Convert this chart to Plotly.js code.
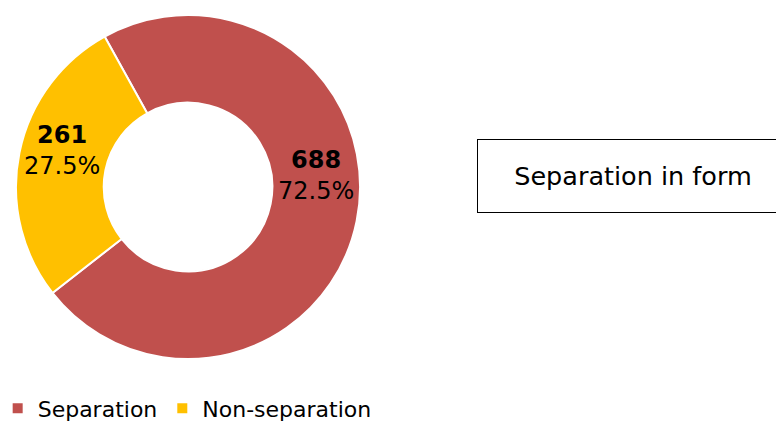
<!DOCTYPE html>
<html>
<head>
<meta charset="utf-8">
<script src="https://cdn.plot.ly/plotly-3.0.1.min.js"></script>
<style>html,body{margin:0;padding:0;background:#fff;}#chart{width:776px;height:426px;}</style>
</head>
<body>
<div id="chart"></div>
<script>
const categories = ["Separation", "Non-separation"];
const counts = [688, 261];
const colors = ["#C0504D", "#FFC000"];
const boxTitle = "Separation in form";

const total = counts.reduce((a, b) => a + b, 0);
const labelPos = [[0.407, 0.587], [0.080, 0.647]];

const trace = {
  type: "pie",
  labels: categories,
  values: counts,
  sort: false,
  direction: "clockwise",
  rotation: -29,
  hole: 0.49,
  marker: { colors: colors, line: { color: "#ffffff", width: 2 } },
  textinfo: "none",
  hoverinfo: "label+value+percent",
  domain: { x: [0.0206, 0.464], y: [0.157, 0.965] }
};

const annotations = categories.map((c, i) => ({
  xref: "paper", yref: "paper",
  x: labelPos[i][0], y: labelPos[i][1], xanchor: "center", yanchor: "middle",
  text: "<b>" + counts[i] + "</b><br>" + (counts[i] / total * 100).toFixed(1) + "%",
  showarrow: false, align: "center",
  font: { family: "DejaVu Sans", size: 24, color: "#000000" }
}));

annotations.push({
  xref: "paper", yref: "paper",
  x: 0.615, y: 0.588, xanchor: "left", yanchor: "middle",
  text: boxTitle, showarrow: false,
  font: { family: "DejaVu Sans", size: 25.5, color: "#000000" },
  bordercolor: "#000000", borderwidth: 1, borderpad: 0,
  width: 310, height: 72, align: "center", bgcolor: "#ffffff"
});

const layout = {
  width: 776, height: 426,
  margin: { l: 0, r: 0, t: 0, b: 0, autoexpand: false },
  paper_bgcolor: "#ffffff",
  font: { family: "DejaVu Sans", size: 22, color: "#000000" },
  showlegend: true,
  legend: {
    orientation: "h", x: -0.003, y: -0.008, xanchor: "left", yanchor: "bottom",
    font: { family: "DejaVu Sans", size: 22, color: "#000000" },
    itemwidth: 30, tracegroupgap: 0
  },
  annotations: annotations
};

Plotly.newPlot("chart", [trace], layout, { displayModeBar: false, staticPlot: true });
</script>
</body>
</html>
